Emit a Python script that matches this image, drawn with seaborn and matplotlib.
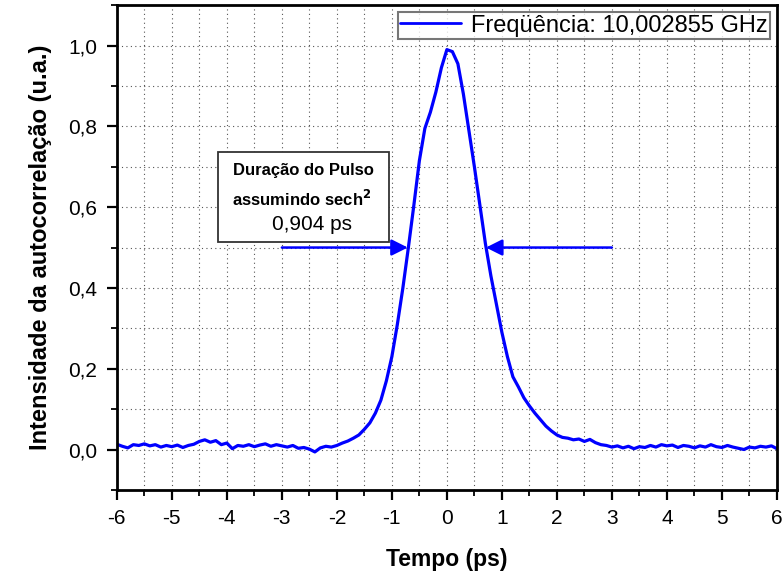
import numpy as np
import pandas as pd
import matplotlib
matplotlib.use("Agg")
import matplotlib.pyplot as plt
from matplotlib.ticker import MultipleLocator
import seaborn as sns

tempo = np.round(np.arange(-6.0, 6.0001, 0.1), 1)
intensidade = [
    0.013, 0.008, 0.004, 0.012, 0.010, 0.014, 0.009, 0.012, 0.006, 0.010,   # -6.0 .. -5.1
    0.007, 0.011, 0.005, 0.010, 0.013, 0.020, 0.024, 0.018, 0.022, 0.012,   # -5.0 .. -4.1
    0.016, 0.002, 0.010, 0.008, 0.012, 0.007, 0.011, 0.014, 0.008, 0.012,   # -4.0 .. -3.1
    0.009, 0.006, 0.010, 0.003, 0.005, 0.001, -0.006, 0.004, 0.008, 0.006,  # -3.0 .. -2.1
    0.010, 0.016, 0.021, 0.028, 0.036, 0.050, 0.066, 0.090, 0.122, 0.170,   # -2.0 .. -1.1
    0.230, 0.310, 0.400, 0.500, 0.605, 0.715, 0.795, 0.835, 0.885, 0.945,   # -1.0 .. -0.1
    0.990, 0.985, 0.955, 0.880, 0.790, 0.700, 0.605, 0.510, 0.430, 0.360,   #  0.0 ..  0.9
    0.290, 0.230, 0.180, 0.155, 0.128, 0.108, 0.090, 0.074, 0.058, 0.046,   #  1.0 ..  1.9
    0.036, 0.030, 0.028, 0.024, 0.026, 0.020, 0.025, 0.017, 0.012, 0.010,   #  2.0 ..  2.9
    0.006, 0.009, 0.004, 0.008, 0.002, 0.007, 0.005, 0.010, 0.006, 0.012,   #  3.0 ..  3.9
    0.009, 0.011, 0.005, 0.010, 0.008, 0.004, 0.009, 0.006, 0.012, 0.007,   #  4.0 ..  4.9
    0.005, 0.010, 0.006, 0.003, 0.000, 0.006, 0.004, 0.008, 0.006, 0.009,   #  5.0 ..  5.9
    0.002,                                                                  #  6.0
]

meia_altura = 0.5
fwhm_esq, fwhm_dir = -0.71, 0.71
seta_esq, seta_dir = -3.0, 3.0

x_ticks = list(range(-6, 7))
x_labels = [str(v) for v in x_ticks]
y_ticks = [0.0, 0.2, 0.4, 0.6, 0.8, 1.0]
y_labels = ["0,0", "0,2", "0,4", "0,6", "0,8", "1,0"]

df = pd.DataFrame({"t": tempo, "I": intensidade})

sns.set_style("ticks")
plt.rcParams["font.family"] = ["Liberation Sans", "DejaVu Sans"]
plt.rcParams["text.color"] = "black"
plt.rcParams["axes.labelcolor"] = "black"

fig = plt.figure(figsize=(7.84, 5.75), dpi=100)
ax = fig.add_axes([0.149, 0.148, 0.842, 0.843])

sns.lineplot(data=df, x="t", y="I", ax=ax, color="#0000ff", linewidth=2.3,
             label="Freqüência: 10,002855 GHz")

ax.set_xlim(-6, 6)
ax.set_ylim(-0.1, 1.1)
ax.set_xticks(x_ticks)
ax.set_xticklabels(x_labels)
ax.set_yticks(y_ticks)
ax.set_yticklabels(y_labels)
ax.xaxis.set_minor_locator(MultipleLocator(0.5))
ax.yaxis.set_minor_locator(MultipleLocator(0.1))
ax.tick_params(which="major", direction="out", length=7, width=1.6, labelsize=15,
               colors="black", pad=7)
ax.tick_params(which="minor", direction="out", length=4, width=1.3, colors="black")
ax.grid(True, which="both", linestyle=(0, (1, 3)), color="#555555", linewidth=0.8)

for sp in ax.spines.values():
    sp.set_visible(True)
    sp.set_linewidth(2)
    sp.set_color("black")

ax.set_xlabel("Tempo (ps)", fontsize=16.5, fontweight="bold", labelpad=14)
ax.set_ylabel("Intensidade da autocorrelação (u.a.)", fontsize=17, fontweight="bold", labelpad=12)

leg = ax.legend(loc="upper right", fontsize=17, fancybox=False, handlelength=2.6,
                borderpad=0.1, borderaxespad=0.3, handletextpad=0.4)
leg.get_frame().set_edgecolor("#555555")
leg.get_frame().set_linewidth(1.5)
for ln in leg.get_lines():
    ln.set_linewidth(2)

# FWHM arrows
for x_ini, x_fim in [(seta_esq, fwhm_esq), (seta_dir, fwhm_dir)]:
    ax.annotate("", xy=(x_fim, meia_altura), xytext=(x_ini, meia_altura),
                arrowprops=dict(arrowstyle="-|>,head_length=0.7,head_width=0.35",
                                color="#0000ff", lw=1.8, mutation_scale=14,
                                shrinkA=0, shrinkB=0))

# annotation box
box = plt.Rectangle((-4.16, 0.514), 3.105, 0.222, facecolor="white", edgecolor="#333333",
                    linewidth=1.3, zorder=5)
ax.add_patch(box)
ax.text(-2.6, 0.69, "Duração do Pulso", fontsize=12, fontweight="bold",
        ha="center", va="center", zorder=6)
ax.text(-3.9, 0.62, "assumindo sech$^\\mathbf{2}$", fontsize=12, fontweight="bold",
        ha="left", va="center", zorder=6)
ax.text(-2.45, 0.557, "0,904 ps", fontsize=15, ha="center", va="center", zorder=6)

fig.savefig("out.png", dpi=100)
